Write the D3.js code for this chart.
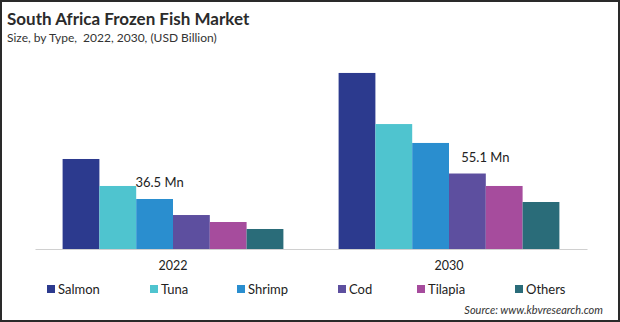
<!DOCTYPE html>
<html><head><meta charset="utf-8">
<script src="https://cdn.jsdelivr.net/npm/d3@7"></script>
<style>
html,body{margin:0;padding:0;background:#fff;}
svg{display:block;font-family:Lato, "Open Sans", sans-serif;}
</style></head>
<body><svg id="c" width="620" height="322"></svg>
<script>
const years = ["2022", "2030"];
const types = ["Salmon", "Tuna", "Shrimp", "Cod", "Tilapia", "Others"];
const values2022 = [65.7, 46.0, 36.5, 24.8, 19.7, 14.6];
const values2030 = [128.5, 91.2, 77.4, 55.1, 46.0, 34.3];
const colors = ["#2c3a8e", "#4fc4cf", "#2a8ecf", "#5d4f9f", "#a64c9d", "#2a6c79"];
const annotations = [{year: "2022", type: "Shrimp", text: "36.5 Mn"}, {year: "2030", type: "Cod", text: "55.1 Mn"}];

const W = 620, H = 322;
const svg = d3.select("#c");
const series = {"2022": values2022, "2030": values2030};

svg.append("rect").attr("x", 1).attr("y", 1).attr("width", W - 2).attr("height", H - 2)
  .attr("fill", "#fff").attr("stroke", "#2a2a2a").attr("stroke-width", 2);

svg.append("text").attr("x", 7).attr("y", 25).attr("font-size", 17).attr("font-weight", "bold")
  .attr("fill", "#2b2b2b").text("South Africa Frozen Fish Market");
svg.append("text").attr("x", 7).attr("y", 42).attr("font-size", 12)
  .attr("fill", "#333").attr("xml:space", "preserve").text("Size, by Type,  2022, 2030, (USD Billion)");

const x0 = d3.scaleBand().domain(years).range([35, 587]).paddingInner(0.2).paddingOuter(0.1);
const x1 = d3.scaleBand().domain(types).range([0, x0.bandwidth()]);
const y = d3.scaleLinear().domain([0, 140]).range([249, 249 - 140 * 1.37]);
const color = d3.scaleOrdinal().domain(types).range(colors);

const g = svg.append("g");
years.forEach(yr => {
  g.append("g").attr("transform", `translate(${x0(yr)},0)`)
    .selectAll("rect").data(types.map((t, i) => ({t, v: series[yr][i]})))
    .join("rect")
    .attr("x", d => x1(d.t)).attr("width", x1.bandwidth())
    .attr("y", d => y(d.v)).attr("height", d => y(0) - y(d.v))
    .attr("fill", d => color(d.t));
});

const xAxis = svg.append("g").attr("transform", `translate(0,${y(0)})`)
  .call(d3.axisBottom(x0).tickSize(0).tickPadding(12));
xAxis.select(".domain").attr("stroke", "#d0d0d0").attr("stroke-width", 1.2);
xAxis.selectAll("text").attr("font-size", 12.5).attr("fill", "#222").attr("font-family", "Lato, sans-serif");

const annDx = {"2022": 5, "2030": 18};
annotations.forEach(a => {
  const i = types.indexOf(a.type);
  svg.append("text")
    .attr("x", x0(a.year) + x1(a.type) + x1.bandwidth() / 2 + annDx[a.year])
    .attr("y", y(series[a.year][i]) - 12)
    .attr("text-anchor", "middle").attr("font-size", 13).attr("fill", "#222")
    .text(a.text);
});

const legX = [47, 150, 237, 338, 417, 515];
const leg = svg.append("g");
types.forEach((t, i) => {
  leg.append("rect").attr("x", legX[i]).attr("y", 285).attr("width", 8).attr("height", 8).attr("fill", color(t));
  leg.append("text").attr("x", legX[i] + 11).attr("y", 294).attr("font-size", 13).attr("fill", "#222").text(t);
});

svg.append("text").attr("x", 603).attr("y", 314).attr("text-anchor", "end")
  .attr("font-size", 11).attr("font-style", "italic").attr("fill", "#333")
  .text("Source: www.kbvresearch.com");
</script></body></html>
